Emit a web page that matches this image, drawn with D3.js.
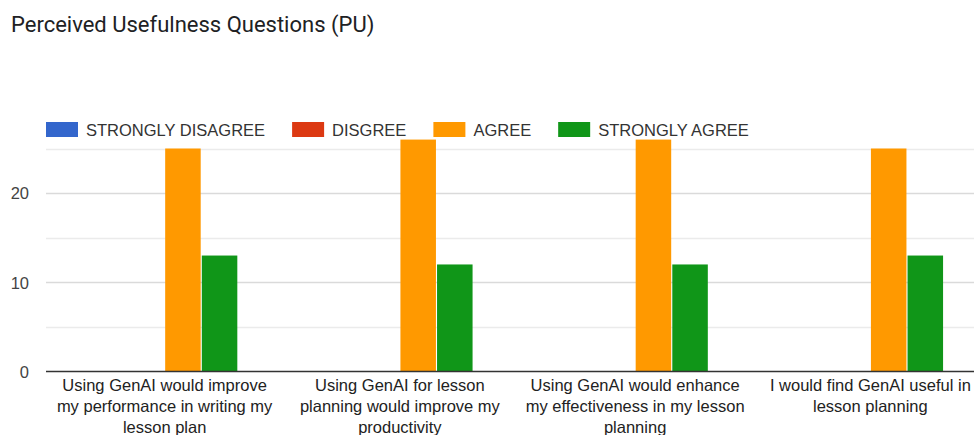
<!DOCTYPE html>
<html>
<head>
<meta charset="utf-8">
<script src="https://cdn.jsdelivr.net/npm/d3@7"></script>
<style>
  body { margin: 0; background: #fff; }
  svg { display: block; }
</style>
</head>
<body>
<div id="chart"></div>
<script>
// Perceived Usefulness Questions (PU) - grouped bar chart

const questions = [
    "Using GenAI would improve my performance in writing my lesson plan",
    "Using GenAI for lesson planning would improve my productivity",
    "Using GenAI would enhance my effectiveness in my lesson planning",
    "I would find GenAI useful in lesson planning"
];
const answers = ["STRONGLY DISAGREE", "DISGREE", "AGREE", "STRONGLY AGREE"];
const answerColors = ["#3366cc", "#dc3912", "#ff9900", "#109618"];

const stronglyDisagree = [0, 0, 0, 0];
const disagree = [0, 0, 0, 0];
const agree = [25, 26, 26, 25];
const stronglyAgree = [13, 12, 12, 13];

const yTicks = [0, 10, 20];
const yMinorTicks = [5, 15, 25];

const width = 974, height = 435;
const plotLeft = 47, plotRight = 988;
const labelFont = "'Liberation Sans', Arial, sans-serif";
const labelSize = "16.5px";

const series = [stronglyDisagree, disagree, agree, stronglyAgree];

const svg = d3.select("#chart").append("svg")
              .attr("width", width)
              .attr("height", height);

// Title
svg.append("text")
   .attr("x", 11)
   .attr("y", 32)
   .style("font-family", "Roboto, sans-serif")
   .style("font-size", "22px")
   .style("fill", "#202124")
   .text("Perceived Usefulness Questions (PU)");

// Scales
const xScale = d3.scaleBand()
                 .domain(questions)
                 .range([plotLeft, plotRight])
                 .paddingInner(0.382)
                 .paddingOuter(0.191);

const xInner = d3.scaleBand()
                 .domain(answers)
                 .range([0, xScale.bandwidth()])
                 .paddingInner(0.03);

const yScale = d3.scaleLinear()
                 .domain([0, 25])
                 .range([371.5, 148.5]);

// Gridlines (minor first, then major)
svg.append("g")
   .selectAll("line")
   .data(yMinorTicks)
   .enter()
   .append("line")
   .attr("x1", 46)
   .attr("x2", width)
   .attr("y1", d => Math.round(yScale(d)) + 0.5)
   .attr("y2", d => Math.round(yScale(d)) + 0.5)
   .style("stroke", "#ebebeb")
   .style("stroke-width", 1.5);

svg.append("g")
   .selectAll("line")
   .data(yTicks.filter(d => d > 0))
   .enter()
   .append("line")
   .attr("x1", 46)
   .attr("x2", width)
   .attr("y1", d => Math.round(yScale(d)) + 0.5)
   .attr("y2", d => Math.round(yScale(d)) + 0.5)
   .style("stroke", "#dadada")
   .style("stroke-width", 1.5);

// Y axis labels
const yAxis = d3.axisLeft(yScale).tickValues(yTicks).tickSize(0).tickPadding(0);
svg.append("g")
   .attr("transform", "translate(29,0)")
   .call(yAxis)
   .call(g => g.select(".domain").remove())
   .selectAll("text")
   .attr("dy", "0.35em")
   .style("font-family", labelFont)
   .style("font-size", labelSize)
   .style("fill", "#444");

// Bars
const groups = svg.append("g")
                  .selectAll("g")
                  .data(questions)
                  .enter()
                  .append("g")
                  .attr("transform", d => "translate(" + xScale(d) + ",0)");

groups.selectAll("rect")
      .data((q, i) => answers.map((a, j) => ({answer: a, value: series[j][i], color: answerColors[j]})))
      .enter()
      .append("rect")
      .attr("x", d => xInner(d.answer))
      .attr("width", xInner.bandwidth())
      .attr("y", d => yScale(d.value))
      .attr("height", d => yScale(0) - yScale(d.value))
      .style("fill", d => d.color);

// Baseline
svg.append("line")
   .attr("x1", 46)
   .attr("x2", width)
   .attr("y1", yScale(0))
   .attr("y2", yScale(0))
   .style("stroke", "#333")
   .style("stroke-width", 1.5);

// X axis labels, wrapped under each group
function wrapWords(text, maxWidth, measure) {
    const words = text.split(" ");
    const lines = [];
    let line = words[0];
    for (let i = 1; i < words.length; i++) {
        const test = line + " " + words[i];
        if (measure(test) > maxWidth) {
            lines.push(line);
            line = words[i];
        } else {
            line = test;
        }
    }
    lines.push(line);
    return lines;
}

const measurer = svg.append("text")
                    .style("font-family", labelFont)
                    .style("font-size", labelSize);
const measure = s => { measurer.text(s); return measurer.node().getComputedTextLength(); };

const xLabels = svg.append("g");
questions.forEach(function (q) {
    const lines = wrapWords(q, 226, measure);
    const t = xLabels.append("text")
                     .attr("text-anchor", "middle")
                     .style("font-family", labelFont)
                     .style("font-size", labelSize)
                     .style("fill", "#222");
    lines.forEach(function (line, k) {
        t.append("tspan")
         .attr("x", xScale(q) + xScale.bandwidth() / 2)
         .attr("y", 391 + k * 21)
         .text(line);
    });
});
measurer.remove();

// Legend
const legend = svg.append("g").attr("transform", "translate(46,122)");
let lx = 0;
answers.forEach(function (a, j) {
    const item = legend.append("g").attr("transform", "translate(" + lx + ",0)");
    item.append("rect")
        .attr("width", 32)
        .attr("height", 15)
        .style("fill", answerColors[j]);
    const label = item.append("text")
        .attr("x", 40)
        .attr("y", 13.5)
        .style("font-family", labelFont)
        .style("font-size", labelSize)
        .style("fill", "#333")
        .text(a);
    lx += 40 + label.node().getComputedTextLength() + 27;
});
</script>
</body>
</html>
